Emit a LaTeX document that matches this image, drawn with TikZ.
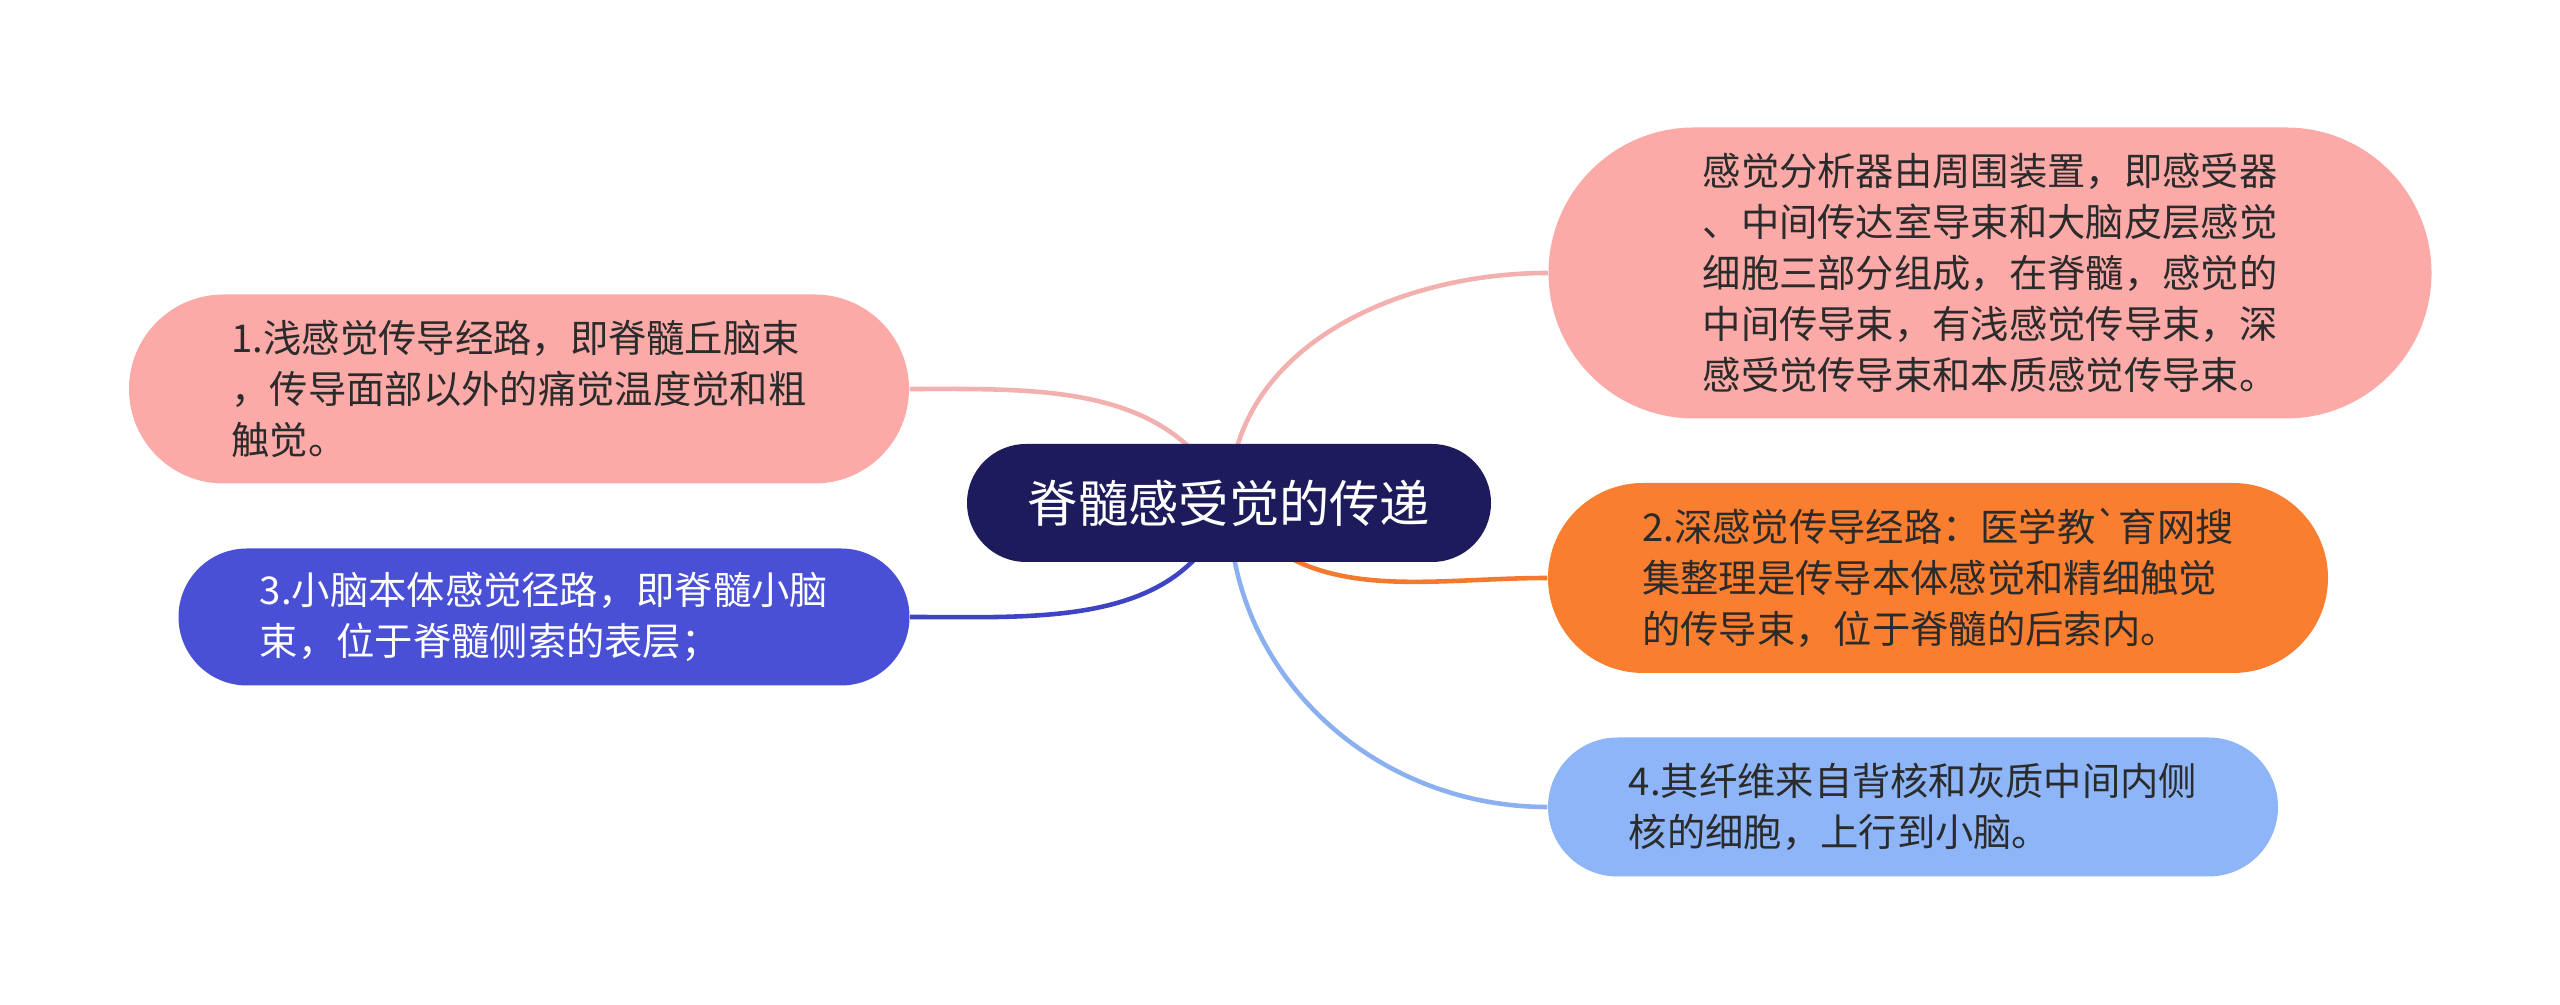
\documentclass[tikz,border=0pt]{standalone}
\usepackage{fontspec}
\setmainfont{Noto Sans CJK SC}
\usetikzlibrary{backgrounds}
\definecolor{rootbg}{HTML}{1D1B5B}
\definecolor{pinkbg}{HTML}{FBAAA8}
\definecolor{pinkln}{HTML}{F2B0AF}
\definecolor{orangebg}{HTML}{FA7E30}
\definecolor{orangeln}{HTML}{F27A2E}
\definecolor{indigobg}{HTML}{4A50D6}
\definecolor{indigoln}{HTML}{3E44C2}
\definecolor{skybg}{HTML}{8DB5F8}
\definecolor{skyln}{HTML}{8AB0F0}
\definecolor{inkdark}{HTML}{2B2B2B}

\begin{document}
\begin{tikzpicture}[
    every node/.style={font=\fontsize{10.9}{14.5}\selectfont, align=left, inner sep=0pt},
    pill/.style={rounded corners=#1cm, minimum height=2*#1cm},
    leaf/.style={fill=#1, text=inkdark},
    conn/.style={draw=#1, line width=1.3pt}]
        \useasboundingbox (0,0) rectangle (25.6,10.05);
        % centre
        \node[fill=rootbg, text=white, pill=0.59, minimum width=5.24cm,
              font=\fontsize{14.3}{17}\selectfont] (spine) at (12.29,5.02) {脊髓感受觉的传递};
        % left side
        \node[leaf=pinkbg, pill=0.945, minimum width=7.8cm] (shallow) at (5.19,6.16)
          {1.浅感觉传导经路，即脊髓丘脑束\\，传导面部以外的痛觉温度觉和粗\\触觉。};
        \node[leaf=indigobg, text=white, pill=0.685, minimum width=7.31cm] (cerebel) at (5.44,3.88)
          {3.小脑本体感觉径路，即脊髓小脑\\束，位于脊髓侧索的表层；};
        % right side
        \node[leaf=pinkbg, pill=1.455, minimum width=8.83cm] (analyser) at (19.9,7.32)
          {感觉分析器由周围装置，即感受器\\、中间传达室导束和大脑皮层感觉\\细胞三部分组成，在脊髓，感觉的\\中间传导束，有浅感觉传导束，深\\感受觉传导束和本质感觉传导束。};
        \node[leaf=orangebg, pill=0.95, minimum width=7.8cm] (deep) at (19.38,4.27)
          {2.深感觉传导经路：医学教\textasciigrave 育网搜\\集整理是传导本体感觉和精细触觉\\的传导束，位于脊髓的后索内。};
        \node[leaf=skybg, pill=0.695, minimum width=7.3cm] (fibre) at (19.13,1.98)
          {4.其纤维来自背核和灰质中间内侧\\核的细胞，上行到小脑。};
        % connectors
        \begin{scope}[on background layer]
          \draw[conn=pinkln] (spine.center) to[out=115,in=0] (shallow.east);
          \draw[conn=indigoln] (spine.center) to[out=-110,in=0] (cerebel.east);
          \draw[conn=pinkln] (spine.center) to[out=90,in=180] (analyser.west);
          \draw[conn=orangeln] (spine.center) to[out=-55,in=180] (deep.west);
          \draw[conn=skyln] (spine.center) to[out=-90,in=180] (fibre.west);
        \end{scope}
      \end{tikzpicture}
\end{document}
